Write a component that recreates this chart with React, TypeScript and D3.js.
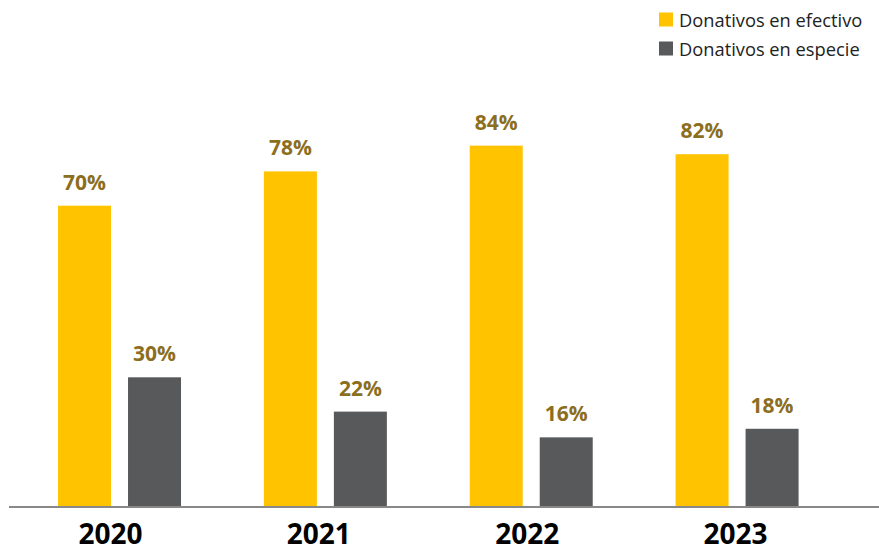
import React from "react";
import * as d3 from "d3";

const years = ["2020", "2021", "2022", "2023"];
const series = ["Donativos en efectivo", "Donativos en especie"];
const efectivo = [70, 78, 84, 82];
const especie = [30, 22, 16, 18];
const colors = ["#FFC300", "#58595B"];

const W = 879;
const H = 547;
const baseY = 506;

export default function App() {
  const x0 = d3.scaleBand<string>().domain(years).range([16.6, 840]);
  const inner = 123;
  const x1 = d3
    .scaleBand<string>()
    .domain(series)
    .range([0, inner])
    .paddingInner(0.2429);
  const xLabel = d3.scaleBand<string>().domain(years).range([6.4, 839.6]);
  const y = d3.scaleLinear().domain([0, 100]).range([baseY, baseY - 429]);
  const values = [efectivo, especie];
  const font = "'Open Sans', sans-serif";

  return (
    <svg
      width={W}
      height={H}
      style={{ position: "absolute", left: 0, top: 0 }}
      fontFamily={font}
    >
      <rect width={W} height={H} fill="#fff" />
      {years.map((yr, i) => {
        const cx = (x0(yr) as number) + x0.bandwidth() / 2;
        const gx = cx - inner / 2;
        return (
          <g key={yr}>
            {series.map((s, j) => {
              const v = values[j][i];
              const bx = gx + (x1(s) as number);
              return (
                <g key={s}>
                  <rect
                    x={bx}
                    y={y(v)}
                    width={x1.bandwidth()}
                    height={baseY - y(v)}
                    fill={colors[j]}
                  />
                  <text
                    x={bx + x1.bandwidth() / 2}
                    y={y(v) - 16}
                    textAnchor="middle"
                    fontSize={21}
                    fontWeight={700}
                    fill="#8B6E1E"
                  >
                    {v}%
                  </text>
                </g>
              );
            })}
            <text
              x={(xLabel(yr) as number) + xLabel.bandwidth() / 2}
              y={544}
              textAnchor="middle"
              fontSize={28}
              fontWeight={700}
              fill="#000"
            >
              {yr}
            </text>
          </g>
        );
      })}
      <line x1={9} x2={W} y1={507} y2={507} stroke="#888" strokeWidth={2} />
      {series.map((s, j) => (
        <g key={s} transform={`translate(659, ${12.5 + j * 29})`}>
          <rect width={14} height={14} fill={colors[j]} />
          <text x={20} y={14} fontSize={18.3} fill="#222">
            {s}
          </text>
        </g>
      ))}
    </svg>
  );
}
